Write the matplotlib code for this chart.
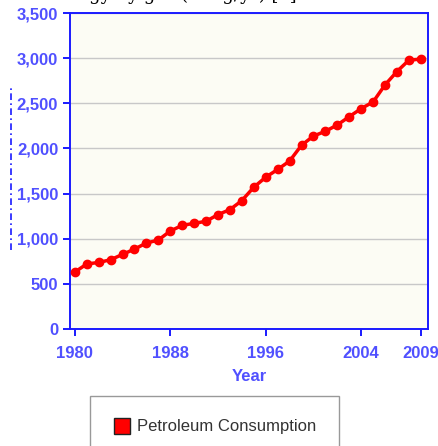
import matplotlib
matplotlib.use('Agg')
import matplotlib.pyplot as plt
from matplotlib.lines import Line2D

years = list(range(1980, 2010))
consumption = [630, 720, 737, 767, 826, 885, 952, 985, 1085, 1148,
               1170, 1193, 1267, 1322, 1422, 1570, 1681, 1767, 1860, 2035,
               2137, 2190, 2260, 2352, 2441, 2515, 2704, 2852, 2978, 2989]
xticks = [1980, 1988, 1996, 2004, 2009]
yticks = [0, 500, 1000, 1500, 2000, 2500, 3000, 3500]

blue = '#1a1aff'
label_blue = '#5050ff'
plt.rcParams['font.family'] = ['Liberation Sans', 'DejaVu Sans']

fig = plt.figure(figsize=(4.39, 4.46), dpi=100)
ax = fig.add_axes([70/439, 1-329/446, (428-70)/439, (329-13)/446])
ax.set_facecolor('#fcfcf4')

ax.plot(years, consumption, color='#ff0000', lw=2.5, marker='o', ms=6,
        label='Petroleum Consumption', zorder=3)

ax.set_xlim(1979.6, 2009.6)
ax.set_ylim(0, 3500)
ax.set_xticks(xticks)
ax.set_yticks(yticks)
ax.set_yticklabels([f'{v:,}' for v in yticks])
ax.yaxis.grid(True, color='#c8c8c8', lw=1)
ax.set_axisbelow(True)

for s in ax.spines.values():
    s.set_color(blue)
    s.set_linewidth(1.4)
ax.tick_params(color=blue, labelcolor=label_blue, labelsize=12,
               length=5, width=1.4, direction='out')
ax.tick_params(axis='x', pad=7)
for t in ax.get_xticklabels() + ax.get_yticklabels():
    t.set_fontweight('bold')
ax.set_xlabel('Year', color=label_blue, fontsize=12, fontweight='bold',
              labelpad=6)

# caption of the page, mostly cut off by the top edge
fig.text(45/439, 1+0.5/446, "Energy by gas (in kg/yr) [4].",
         family='DejaVu Serif', fontsize=13, color='black', va='baseline')
# dotted remnant at the left edge
fig.add_artist(Line2D([11/439, 11/439], [1-250/446, 1-88/446],
                      color=blue, lw=1.2, ls=(0, (4, 2, 1, 2))))

handle = Line2D([], [], ls='none', marker='s', ms=11, mfc='#ff0000',
                mec='#222222', mew=1)
leg = fig.legend([handle], ['Petroleum Consumption'],
                 loc='upper left', bbox_to_anchor=(90/439, 1-396/446),
                 fancybox=False, framealpha=1, edgecolor='#999999',
                 fontsize=12, borderpad=1.4, handletextpad=0.4,
                 handlelength=1.0, borderaxespad=0)
for t in leg.get_texts():
    t.set_color('#333333')

fig.savefig('out.png', dpi=100)
